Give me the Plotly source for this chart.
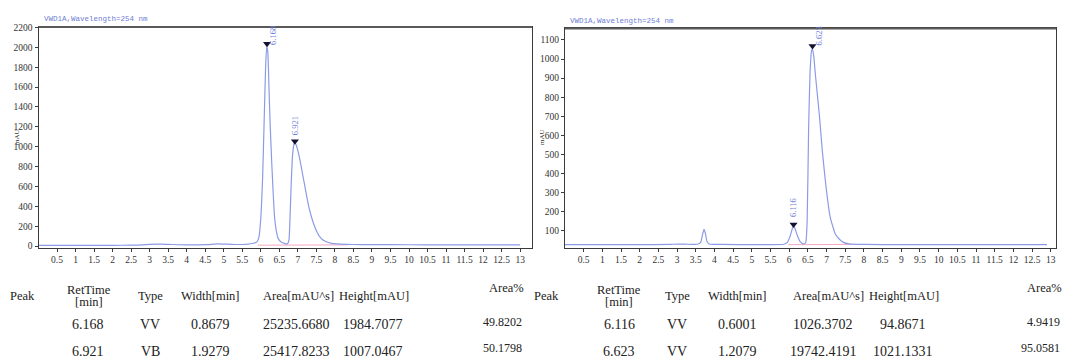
import plotly.graph_objects as go

W, H = 1067, 360

# ---------------- data ----------------
left_time = [0.0, 0.5, 1.0, 1.5, 2.0, 2.5, 2.8, 3.0, 3.3, 3.6, 4.0, 4.5, 4.85, 5.0, 5.3, 5.6,
             5.8, 5.9, 5.95, 6.0, 6.05, 6.09, 6.13, 6.16, 6.19, 6.22, 6.25, 6.30, 6.37, 6.42,
             6.47, 6.55, 6.65, 6.72, 6.76, 6.79, 6.82, 6.86, 6.90, 6.92, 6.96, 7.00, 7.06,
             7.12, 7.18, 7.24, 7.30, 7.37, 7.44, 7.52, 7.60, 7.70, 7.80, 7.90, 8.05, 8.3,
             8.7, 9.5, 10.5, 11.5, 12.5, 13.0]
left_signal = [8, 8, 8, 8, 8, 9, 12, 18, 20, 16, 12, 14, 22, 20, 16, 18,
               28, 45, 90, 280, 700, 1250, 1800, 2010, 1950, 1600, 1250, 800, 300, 150,
               75, 40, 25, 22, 60, 300, 620, 930, 1030, 1040, 1015, 960, 860,
               740, 620, 500, 390, 290, 210, 140, 90, 55, 38, 28, 22, 17,
               15, 14, 13, 12, 12, 12]
left_peak_rt = [6.168, 6.921]
left_peak_mark = [2035, 1055]
left_peak_label = ["6.168", "6.921"]
left_base_time = [5.92, 8.35]
left_base_signal = [9, 12]

right_time = [0.0, 1.0, 2.0, 2.8, 3.0, 3.3, 3.55, 3.63, 3.68, 3.72, 3.76, 3.80, 3.86, 4.2,
              5.0, 5.5, 5.85, 5.95, 6.02, 6.08, 6.115, 6.15, 6.22, 6.30, 6.38, 6.44, 6.48,
              6.52, 6.56, 6.60, 6.625, 6.66, 6.70, 6.74, 6.81, 6.89, 6.98, 7.05, 7.10, 7.18,
              7.23, 7.35, 7.45, 7.60, 8.0, 9.0, 10.0, 11.0, 12.0, 12.9]
right_signal = [28, 28, 28, 29, 31, 30, 30, 40, 80, 108, 85, 45, 31, 29,
                28, 28, 30, 40, 70, 110, 124, 115, 75, 42, 32, 38, 150,
                640, 940, 1045, 1050, 1010, 920, 840, 700, 510, 340, 230, 170, 115,
                85, 55, 40, 32, 29, 28, 28, 28, 28, 28]
right_peak_rt = [6.116, 6.623]
right_peak_mark = [134, 1068]
right_peak_label = ["6.116", "6.623"]
right_base_time = [5.98, 7.70]
right_base_signal = [28, 29]

x_tick_vals = [0.5 * i for i in range(1, 27)]
x_tick_text = [f"{v:g}" for v in x_tick_vals]
left_y_ticks = list(range(0, 2201, 200))
right_y_ticks = list(range(100, 1101, 100))

chart_title = "VWD1A,Wavelength=254 nm"
y_title = "mAU"

table_header = ["Peak", "RetTime", "[min]", "Type", "Width[min]", "Area[mAU^s]", "Height[mAU]", "Area%"]
left_rows = [["6.168", "VV", "0.8679", "25235.6680", "1984.7077", "49.8202"],
             ["6.921", "VB", "1.9279", "25417.8233", "1007.0467", "50.1798"]]
right_rows = [["6.116", "VV", "0.6001", "1026.3702", "94.8671", "4.9419"],
              ["6.623", "VV", "1.2079", "19742.4191", "1021.1331", "95.0581"]]

# ---------------- styling ----------------
LINE = "#8c9be6"
BLUE_TXT = "#6f80d6"
AX = "#3a3a3a"
SERIF = "Liberation Serif"
MONO = "Liberation Mono"


def px(x):
    return x / W


def py(y):
    return 1 - y / H


fig = go.Figure()

for i, (t, s, prt, pm, base_t, base_s) in enumerate([
        (left_time, left_signal, left_peak_rt, left_peak_mark, left_base_time, left_base_signal),
        (right_time, right_signal, right_peak_rt, right_peak_mark, right_base_time, right_base_signal)]):
    xa = "x" if i == 0 else "x2"
    ya = "y" if i == 0 else "y2"
    fig.add_trace(go.Scatter(x=base_t, y=base_s, mode="lines", xaxis=xa, yaxis=ya,
                             line=dict(color="#f3a9c2", width=1), showlegend=False, hoverinfo="skip"))
    fig.add_trace(go.Scatter(x=t, y=s, mode="lines", xaxis=xa, yaxis=ya,
                             line=dict(color=LINE, width=1.2, shape="spline", smoothing=0.5),
                             showlegend=False))
    fig.add_trace(go.Scatter(x=prt, y=pm, mode="markers", xaxis=xa, yaxis=ya,
                             marker=dict(symbol="triangle-down", size=7, color="#111133"),
                             showlegend=False))

axis_common = dict(showline=True, linecolor=AX, linewidth=1, mirror=True, showgrid=False,
                   zeroline=False, ticks="outside", ticklen=3, tickcolor=AX,
                   tickfont=dict(family=SERIF, size=9.5, color="#333"))

fig.update_layout(
    width=W, height=H, margin=dict(l=0, r=0, t=0, b=0),
    paper_bgcolor="white", plot_bgcolor="white", showlegend=False,
    xaxis=dict(domain=[px(38.5), px(532)], range=[0, 13.32], anchor="y",
               tickvals=x_tick_vals, ticktext=x_tick_text, **axis_common),
    yaxis=dict(domain=[py(249.3), py(23.5)], range=[-17, 2205], anchor="x",
               tickvals=left_y_ticks, **axis_common),
    xaxis2=dict(domain=[px(565), px(1056)], range=[0, 13.14], anchor="y2",
                tickvals=x_tick_vals, ticktext=x_tick_text, **axis_common),
    yaxis2=dict(domain=[py(249.3), py(25)], range=[11.7, 1160], anchor="x2",
                tickvals=right_y_ticks, **axis_common),
)

# thicker gray top borders, aligned to the plot areas
for xr, yr in [("x", "y"), ("x2", "y2")]:
    fig.add_shape(type="line", xref=f"{xr} domain", yref=f"{yr} domain", x0=0, x1=1, y0=1, y1=1,
                  line=dict(color="#5a5a5a", width=2))

ann = []
# chart titles and axis titles
ann.append(dict(x=px(42), y=py(15), text=chart_title, xanchor="left", yanchor="middle"))
ann.append(dict(x=px(568), y=py(17), text=chart_title, xanchor="left", yanchor="middle"))
for a in ann:
    a.update(xref="paper", yref="paper", showarrow=False, font=dict(family=MONO, size=7.5, color=BLUE_TXT))
for x, y in [(11, 136), (542, 136)]:
    ann.append(dict(x=px(x), y=py(y), xref="paper", yref="paper", text=y_title, textangle=-90,
                    showarrow=False, font=dict(family=SERIF, size=7, color="#333")))

# peak labels
label_shift = [[(6, 6), (0, 14)], [(0, 15), (7, 8)]]
for i, (prt, pm, lab) in enumerate([(left_peak_rt, left_peak_mark, left_peak_label),
                                     (right_peak_rt, right_peak_mark, right_peak_label)]):
    xr = "x" if i == 0 else "x2"
    yr = "y" if i == 0 else "y2"
    for j in range(len(prt)):
        dx, dy = label_shift[i][j]
        ann.append(dict(x=prt[j], y=pm[j], xref=xr, yref=yr, text=lab[j], textangle=-90,
                        xanchor="center", yanchor="middle", xshift=dx, yshift=dy + 2,
                        showarrow=False, font=dict(family=SERIF, size=8.5, color=BLUE_TXT)))

# tables
head_font = dict(family=SERIF, size=12.5, color="#222")
num_font = dict(family=SERIF, size=14, color="#222")
pct_font = dict(family=SERIF, size=12, color="#222")
tables = [
    dict(rows=left_rows, hx=[8, 89, 89, 150, 210, 298, 374, 526], cx=[88, 150, 210, 296, 373], px_=524),
    dict(rows=right_rows, hx=[532, 619, 619, 677, 737, 828, 904, 1064], cx=[619, 677, 737, 823, 903], px_=1062),
]
hy = [299, 292, 305, 299, 299, 299, 299, 290]
for tb in tables:
    hx = tb["hx"]
    for k, txt in enumerate(table_header):
        anchor = "left" if k == 0 else ("right" if k == 7 else "center")
        ann.append(dict(x=px(hx[k]), y=py(hy[k]), text=txt, xanchor=anchor, font=head_font))
    for r, row in enumerate(tb["rows"]):
        ry = 328 + 27 * r
        for k in range(5):
            ann.append(dict(x=px(tb["cx"][k]), y=py(ry), text=row[k], xanchor="center", font=num_font))
        ann.append(dict(x=px(tb["px_"]), y=py(ry - 3), text=row[5], xanchor="right", font=pct_font))

for a in ann:
    a.setdefault("xref", "paper")
    a.setdefault("yref", "paper")
    a.setdefault("showarrow", False)
    a.setdefault("yanchor", "middle")

fig.update_layout(annotations=ann)

fig.write_html("out.html", config={"displayModeBar": False},
               post_script="document.body.style.margin='0';")
